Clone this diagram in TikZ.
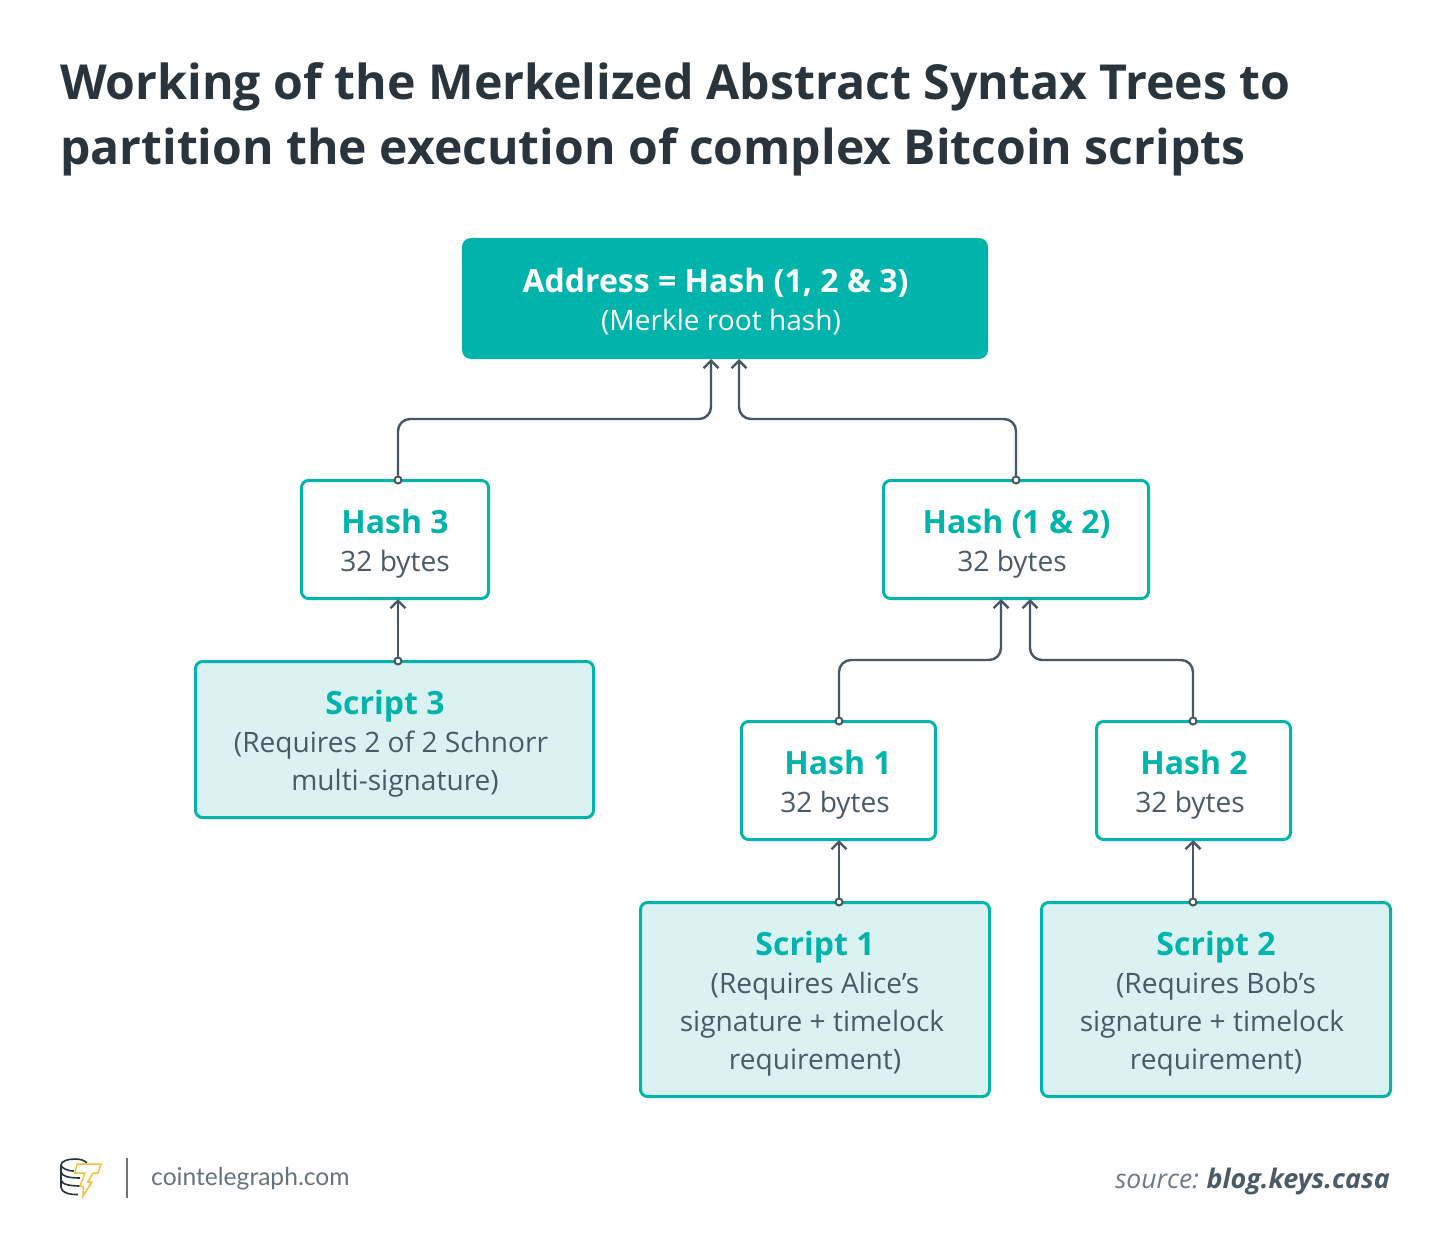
\documentclass[tikz,border=0pt]{standalone}
\usepackage{fontspec}
\setmainfont{Open Sans}
\newfontfamily\latofont{Lato}
\usetikzlibrary{arrows.meta,positioning}
\definecolor{teal}{HTML}{00B4AB}
\definecolor{pale}{HTML}{DAF3F2}
\definecolor{ink}{HTML}{2A343C}
\definecolor{body}{HTML}{4A5A66}
\definecolor{wire}{HTML}{475763}
\definecolor{bolt}{HTML}{F7BE3B}
\newcommand{\fsz}[1]{\fontsize{#1}{#1}\selectfont}
\tikzset{
  box/.style={draw=teal,line width=3pt,rounded corners=7pt,inner sep=0pt,fill=white},
  scriptbox/.style={box,fill=pale},
  rootbox/.style={fill=teal,rounded corners=9pt,inner sep=0pt},
  head/.style={font=\fsz{32}\bfseries,text=teal,inner sep=0pt,anchor=base},
  sub/.style={font=\fsz{28.1},text=body,inner sep=0pt,anchor=base},
  titletext/.style={font=\fsz{48.25}\bfseries,text=ink,inner sep=0pt,anchor=base west},
  link/.style={draw=wire,line width=2.4pt,rounded corners=12pt,-{Straight Barb[length=7.5pt,width=15pt,line width=2.4pt]}},
  startdot/.style={circle,draw=wire,fill=white,line width=2pt,minimum size=7pt,inner sep=0pt},
}
\begin{document}
\begin{tikzpicture}[x=1pt,y=-1pt]
\useasboundingbox (0,0) rectangle (1450,1258);
\fill[white] (0,0) rectangle (1450,1258);
\node[titletext] (t1) at (60,99) {Working of the Merkelized Abstract Syntax Trees to};
\node[titletext,font=\fsz{48.1}\bfseries] (t2) at (60,164) {partition the execution of complex Bitcoin scripts};

\node[rootbox,minimum width=526pt,minimum height=121pt] (root) at (725,298.5) {};
\node[box,minimum width=187pt,minimum height=118pt] (hash3) at (395,539.5) {};
\node[box,minimum width=265pt,minimum height=118pt] (hash12) at (1016,539.5) {};
\node[scriptbox,minimum width=398pt,minimum height=156pt] (script3) at (394.5,739.5) {};
\node[box,minimum width=194pt,minimum height=118pt] (hash1) at (838.5,780.5) {};
\node[box,minimum width=194pt,minimum height=118pt] (hash2) at (1193.5,780.5) {};
\node[scriptbox,minimum width=349pt,minimum height=194pt] (script1) at (815,999.5) {};
\node[scriptbox,minimum width=349pt,minimum height=194pt] (script2) at (1216,999.5) {};

\node[head,text=white] (rt1) at (715.5,292.5) {Address = Hash (1, 2 \& 3)};
\node[sub,text=white] (rt2) at (721,330) {(Merkle root hash)};
\node[head] (h3a) at (395,533.5) {Hash 3};
\node[sub] (h3b) at (395,571) {32 bytes};
\node[head] (h12a) at (1016.5,533.5) {Hash (1 \& 2)};
\node[sub] (h12b) at (1012,571) {32 bytes};
\node[head] (s3a) at (385,714.5) {Script 3};
\node[sub] (s3b) at (391,752) {(Requires 2 of 2 Schnorr};
\node[sub] (s3c) at (395,790) {multi-signature)};
\node[head] (h1a) at (838,774.5) {Hash 1};
\node[sub] (h1b) at (835,812) {32 bytes};
\node[head] (h2a) at (1194,774.5) {Hash 2};
\node[sub] (h2b) at (1190,812) {32 bytes};
\node[head] (s1a) at (815,955.5) {Script 1};
\node[sub] (s1b) at (815,993) {(Requires Alice’s};
\node[sub] (s1c) at (812,1031) {signature + timelock};
\node[sub] (s1d) at (815,1069) {requirement)};
\node[head] (s2a) at (1216,955.5) {Script 2};
\node[sub] (s2b) at (1216,993) {(Requires Bob’s};
\node[sub] (s2c) at (1212,1031) {signature + timelock};
\node[sub] (s2d) at (1216,1069) {requirement)};

\coordinate (rootL) at (711,359);
\coordinate (rootR) at (739,359);
\coordinate (h3top) at (398,480);
\coordinate (h12top) at (1016,480);
\coordinate (h12L) at (1001,599);
\coordinate (h12R) at (1030,599);
\coordinate (h3bot) at (398,599);
\coordinate (s3top) at (398,661);
\coordinate (h1top) at (839,721);
\coordinate (h2top) at (1193,721);
\coordinate (h1bot) at (839,840);
\coordinate (h2bot) at (1193,840);
\coordinate (s1top) at (839,902);
\coordinate (s2top) at (1193,902);

\draw[link] (h3top) |- (555,419) -| (rootL);
\draw[link] (h12top) |- (880,419) -| (rootR);
\draw[link] (h1top) |- (920,660) -| (h12L);
\draw[link] (h2top) |- (1110,660) -| (h12R);
\draw[link] (s3top) -- (h3bot);
\draw[link] (s1top) -- (h1bot);
\draw[link] (s2top) -- (h2bot);
\foreach \p/\n in {h3top/d1,h12top/d2,h1top/d3,h2top/d4,s3top/d5,s1top/d6,s2top/d7}
  \node[startdot] (\n) at (\p) {};

% logo
\begin{scope}[draw=ink,line width=1.6pt]
  \draw (74,1171) .. controls (66,1171) and (61,1167) .. (61,1165) .. controls (61,1161) and (68,1159) .. (75,1159) .. controls (80,1159) and (84,1160) .. (87,1163);
  \draw (61,1165) -- (61,1187) .. controls (61,1192) and (69,1195) .. (78,1194.5);
  \draw (61,1172) .. controls (62,1176) and (68,1178) .. (80,1178);
  \draw (61,1180) .. controls (62,1184) and (68,1186) .. (81,1186);
\end{scope}
\draw[bolt,line width=1.5pt,line join=miter] (77,1164) -- (101,1164) -- (98,1173) -- (93,1173) -- (88,1182) -- (92,1182) -- (83,1196) -- (83.5,1187) -- (80,1186) -- (85,1173) -- (75,1173) -- cycle;
\draw[draw=black!55,line width=2pt] (127,1158) -- (127,1198);
\node[font=\latofont\fsz{24.6},text=body!85,inner sep=0pt,anchor=base west] (brand) at (151,1185) {cointelegraph.com};
\node[font=\fsz{26.5},text=body,inner sep=0pt,anchor=base east] (src) at (1390,1188) {\textcolor{body!80}{\textit{source:}}\hspace{-1.5pt} {\fsz{26.9}\textbf{\textit{blog.keys.casa}}}};
\end{tikzpicture}
\end{document}
